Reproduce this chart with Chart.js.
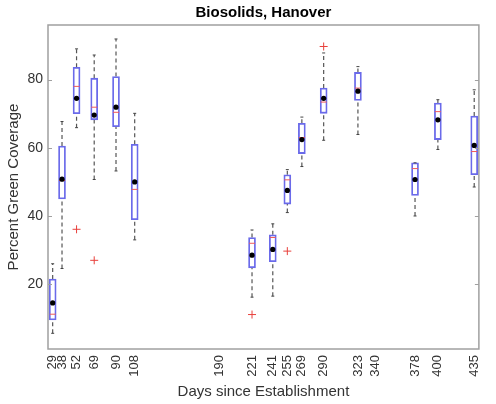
<!DOCTYPE html>
<html>
<head>
<meta charset="utf-8">
<script src="https://cdn.jsdelivr.net/npm/chart.js@4"></script>
<style>
  html, body { margin: 0; padding: 0; background: #fff; }
  #wrap { width: 496px; height: 404px; }
</style>
</head>
<body>
<div id="wrap"><canvas id="chart" width="496" height="404"></canvas></div>
<script>
// box positions (days since establishment) and the box statistics
const days = [29, 38, 52, 69, 90, 108, 221, 241, 255, 269, 290, 323, 378, 400, 435];
const whiskerLow = [5.6, 24.6, 65.9, 50.7, 53.2, 33.0, 16.2, 16.5, 41.0, 54.5, 62.2, 63.9, 40.0, 59.5, 48.5];
const q1 = [9.5, 45.0, 70.0, 68.2, 66.2, 38.9, 24.8, 26.6, 43.5, 58.3, 70.1, 73.9, 46.0, 62.4, 52.1];
const median = [11.2, 50.4, 78.0, 71.9, 70.4, 47.8, 32.0, 33.7, 50.6, 63.0, 73.4, 77.5, 53.9, 70.6, 58.9];
const mean = [14.5, 50.8, 74.5, 69.6, 71.9, 50.0, 28.5, 30.2, 47.5, 62.4, 74.5, 76.6, 50.7, 68.2, 60.7];
const q3 = [21.5, 60.5, 83.6, 80.4, 80.9, 61.0, 33.7, 34.5, 52.1, 67.2, 77.5, 82.1, 55.6, 73.1, 69.3];
const whiskerHigh = [26.0, 67.7, 89.0, 87.2, 91.9, 70.1, 35.9, 37.7, 53.6, 69.0, 87.8, 83.8, 55.6, 74.1, 77.0];
const outlierDays = [52, 69, 221, 255, 290];
const outlierValues = [36.1, 27.0, 11.1, 29.7, 89.7];
const xTicks = [29, 38, 52, 69, 90, 108, 190, 221, 241, 255, 269, 290, 323, 340, 378, 400, 435];
const yTicks = [20, 40, 60, 80];

const FONT = '"Liberation Sans", Arial, sans-serif';

// whiskers: box edge to whisker end, broken with nulls between segments
const whiskerPts = [];
days.forEach((d, i) => {
  whiskerPts.push({ x: d, y: q3[i] }, { x: d, y: whiskerHigh[i] }, { x: d, y: null });
  whiskerPts.push({ x: d, y: whiskerLow[i] }, { x: d, y: q1[i] }, { x: d, y: null });
});

const capPts = days.map((d, i) => ({ x: d, y: whiskerHigh[i] }))
  .concat(days.map((d, i) => ({ x: d, y: whiskerLow[i] })));

// axes frame with inward ticks, like the original figure
const frame = {
  id: 'frame',
  afterDraw(chart) {
    const { ctx, chartArea: a, scales: { y } } = chart;
    ctx.save();
    ctx.strokeStyle = '#a0a0a0';
    ctx.lineWidth = 1.5;
    ctx.strokeRect(a.left, a.top, a.right - a.left, a.bottom - a.top);
    ctx.lineWidth = 1;
    yTicks.forEach(v => {
      const py = Math.round(y.getPixelForValue(v)) + 0.5;
      ctx.beginPath();
      ctx.moveTo(a.left, py);
      ctx.lineTo(a.left + 4, py);
      ctx.moveTo(a.right - 4, py);
      ctx.lineTo(a.right, py);
      ctx.stroke();
    });
    ctx.restore();
  }
};

new Chart(document.getElementById('chart'), {
  type: 'bar',
  data: {
    datasets: [
      {
        type: 'scatter',
        data: outlierDays.map((d, i) => ({ x: d, y: outlierValues[i] })),
        pointStyle: 'cross',
        pointRadius: 4,
        borderColor: '#e8403c',
        borderWidth: 1,
        order: 1
      },
      {
        type: 'scatter',
        data: days.map((d, i) => ({ x: d, y: mean[i] })),
        pointStyle: 'circle',
        pointRadius: 2.6,
        backgroundColor: '#000',
        borderColor: '#000',
        borderWidth: 0,
        order: 1
      },
      {
        type: 'scatter',
        data: days.map((d, i) => ({ x: d, y: median[i] })),
        pointStyle: 'line',
        pointRadius: 3,
        borderColor: '#f05a5a',
        borderWidth: 1,
        order: 2
      },
      {
        type: 'scatter',
        data: capPts,
        pointStyle: 'line',
        pointRadius: 1.5,
        borderColor: '#444',
        borderWidth: 1,
        order: 3
      },
      {
        type: 'bar',
        data: days.map((d, i) => ({ x: d, y: [q1[i], q3[i]] })),
        backgroundColor: '#fff',
        borderColor: '#6a6aea',
        borderWidth: 1.8,
        borderSkipped: false,
        barThickness: 7,
        order: 4
      },
      {
        type: 'line',
        data: whiskerPts,
        borderColor: '#555',
        borderWidth: 1.2,
        borderDash: [4, 3],
        pointRadius: 0,
        spanGaps: false,
        order: 5
      }
    ]
  },
  options: {
    responsive: false,
    animation: false,
    layout: { padding: { left: 0, right: 2, top: 0, bottom: 0 } },
    plugins: {
      legend: { display: false },
      tooltip: { enabled: false },
      title: {
        display: true,
        fullSize: false,
        text: 'Biosolids, Hanover',
        color: '#000',
        font: { family: FONT, size: 15, weight: 'bold' },
        padding: { top: 4, bottom: 3 }
      }
    },
    scales: {
      x: {
        type: 'linear',
        min: 24.5,
        max: 439.5,
        offset: false,
        grid: { display: false, drawTicks: false },
        border: { display: false },
        afterBuildTicks: (scale) => { scale.ticks = xTicks.map(v => ({ value: v })); },
        afterFit: (scale) => { scale.height = 55; },
        ticks: {
          autoSkip: false,
          minRotation: 90,
          maxRotation: 90,
          padding: 6,
          color: '#333',
          font: { family: FONT, size: 13 },
          callback: (v) => String(v)
        },
        title: {
          display: true,
          text: 'Days since Establishment',
          color: '#333',
          font: { family: FONT, size: 15 },
          padding: { top: 0, bottom: 3 }
        }
      },
      y: {
        min: 1,
        max: 96,
        grid: { display: false, drawTicks: false },
        border: { display: false },
        afterBuildTicks: (scale) => { scale.ticks = yTicks.map(v => ({ value: v })); },
        afterFit: (scale) => { scale.width = 48; },
        ticks: {
          padding: 5,
          color: '#333',
          font: { family: FONT, size: 14 }
        },
        title: {
          display: true,
          text: 'Percent Green Coverage',
          color: '#333',
          font: { family: FONT, size: 15 },
          padding: { top: 5, bottom: 0 }
        }
      }
    }
  },
  plugins: [frame]
});
</script>
</body>
</html>
